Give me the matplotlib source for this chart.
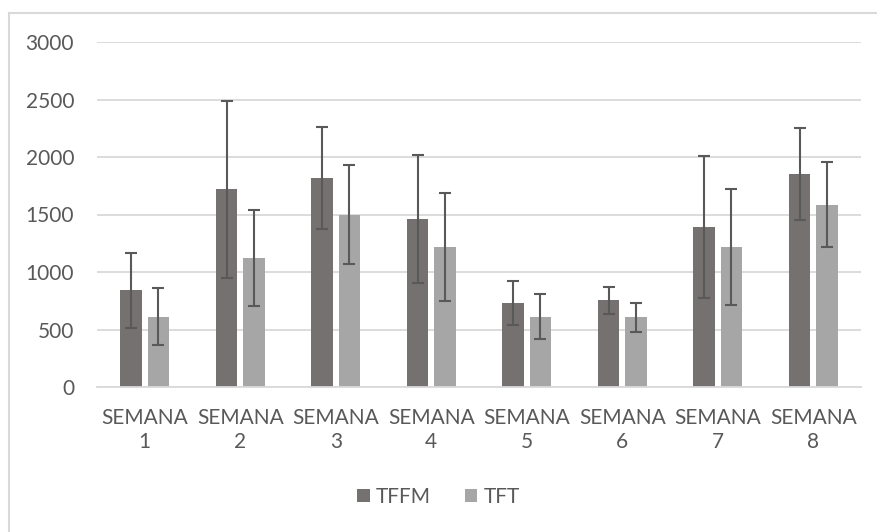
import numpy as np
import matplotlib.pyplot as plt
from matplotlib.lines import Line2D

plt.rcParams['font.family'] = ['Lato', 'DejaVu Sans']

# datos
semanas = ['SEMANA\n1', 'SEMANA\n2', 'SEMANA\n3', 'SEMANA\n4',
           'SEMANA\n5', 'SEMANA\n6', 'SEMANA\n7', 'SEMANA\n8']
tffm = [840, 1720, 1818, 1460, 730, 755, 1390, 1853]
tffm_err = [326, 768, 446, 556, 190, 117, 616, 403]
tft = [612, 1122, 1500, 1218, 612, 606, 1218, 1585]
tft_err = [250, 415, 433, 467, 196, 125, 503, 370]

W, H = 877, 532
fig = plt.figure(figsize=(W / 100, H / 100), dpi=100)
ax = fig.add_axes([97 / W, 1 - 387 / H, (861 - 97) / W, (387 - 42) / H])

x = np.arange(len(semanas))
bw = 0.223
off = 0.143
txt = '#595959'
ekw = dict(ecolor='#595959', elinewidth=1.5, capsize=4.5, capthick=1.5)

ax.bar(x - off, tffm, bw, color='#767171', label='TFFM', zorder=2,
       yerr=tffm_err, error_kw=ekw)
ax.bar(x + off, tft, bw, color='#A6A6A6', label='TFT', zorder=2,
       yerr=tft_err, error_kw=ekw)

ax.set_xlim(-0.5, len(semanas) - 0.5)
ax.set_ylim(0, 3000)
ax.set_yticks(np.arange(0, 3001, 500))
ax.set_xticks(x)
ax.set_xticklabels(semanas, linespacing=1.25)
ax.grid(axis='y', color='#D9D9D9', linewidth=1.3, zorder=0)
for s in ['top', 'right', 'left']:
    ax.spines[s].set_visible(False)
ax.spines['bottom'].set_color('#D9D9D9')
ax.spines['bottom'].set_linewidth(1.3)
ax.tick_params(axis='both', length=0, labelsize=15, colors=txt)
ax.tick_params(axis='y', pad=16.5)
ax.tick_params(axis='x', pad=15)

fig.legend(loc='center', bbox_to_anchor=(0.5, 1 - 497 / H), ncol=2,
           frameon=False, fontsize=15, labelcolor=txt, handlelength=0.6,
           handleheight=0.6, handletextpad=0.3, columnspacing=1.6)

# borde del area del grafico
fig.add_artist(Line2D([8.5 / W, 8.5 / W], [0, 1 - 12.5 / H],
                      transform=fig.transFigure, color='#D9D9D9', lw=1.5))
fig.add_artist(Line2D([8.5 / W, 1], [1 - 12.5 / H, 1 - 12.5 / H],
                      transform=fig.transFigure, color='#D9D9D9', lw=1.5))

fig.savefig('out.png', dpi=100)
